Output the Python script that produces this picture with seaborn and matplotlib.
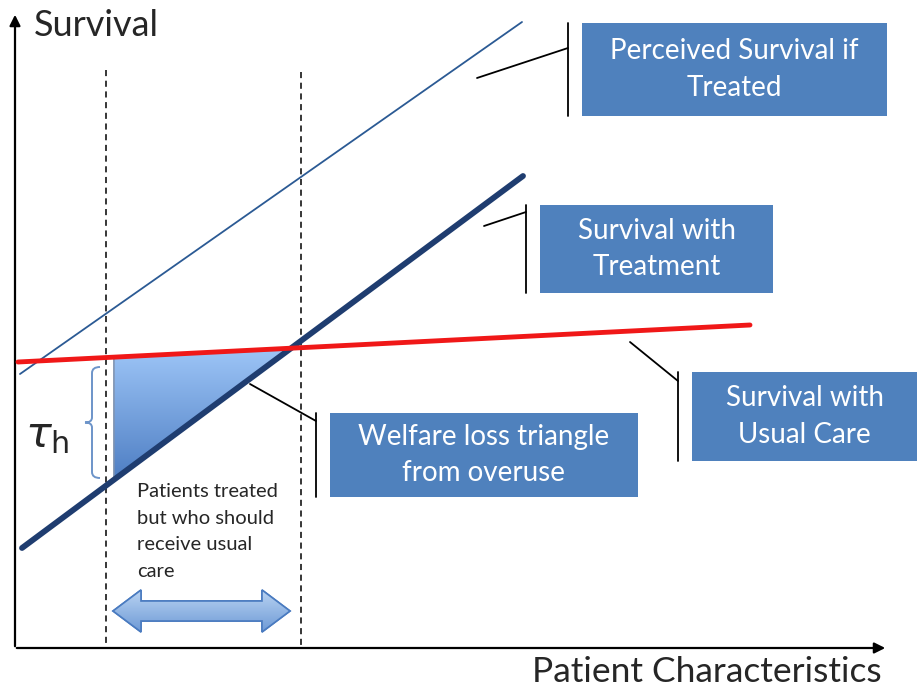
import numpy as np
import matplotlib
matplotlib.use("Agg")
import matplotlib.pyplot as plt
import matplotlib.patches as mpatches
from matplotlib.path import Path
import seaborn as sns

# --- diagram data (pixel-like coordinates, y grows downward) ---
perceived_x = [20, 522]
perceived_y = [374, 22]
treated_x = [22, 523]
treated_y = [548, 176]
usual_x = [18, 750]
usual_y = [362, 325]

cutoff_x = [106, 301]
cutoff_top = [70, 72]

triangle_x = [114, 291, 114]
triangle_y = [356, 350, 478]

box_labels = ["Perceived Survival if\nTreated", "Survival with\nTreatment",
              "Survival with\nUsual Care", "Welfare loss triangle\nfrom overuse"]
box_left = [582, 540, 692, 330]
box_top = [23, 205, 372, 413]
box_right = [887, 773, 917, 638]
box_bottom = [116, 293, 461, 497]
callout_from_x = [477, 484, 630, 250]
callout_from_y = [78, 226, 342, 384]
callout_to_y = [48, 212, 381, 421]

patients_note = "Patients treated\nbut who should\nreceive usual\ncare"

sns.set_style("white")
plt.rcParams['font.family'] = ['Lato', 'DejaVu Sans']

fig = plt.figure(figsize=(9.17, 6.92), dpi=100)
ax = fig.add_axes([0, 0, 1, 1])
ax.set_xlim(0, 917)
ax.set_ylim(692, 0)
ax.axis("off")

# main lines
sns.lineplot(x=perceived_x, y=perceived_y, ax=ax, color="#2b5a94", lw=1.3, zorder=3)
sns.lineplot(x=treated_x, y=treated_y, ax=ax, color="#1f3d70", lw=4.2, zorder=4)
sns.lineplot(x=usual_x, y=usual_y, ax=ax, color="#f01818", lw=3.5, zorder=4)

# dashed cutoffs
for cx, ct in zip(cutoff_x, cutoff_top):
    ax.plot([cx, cx], [ct, 648], color="black", lw=1.1, ls=(0, (4, 3)), zorder=2)

# axes with arrows
ax.annotate("", xy=(15, 12), xytext=(15, 649),
            arrowprops=dict(arrowstyle="-|>", color="black", lw=1.6, mutation_scale=16))
ax.annotate("", xy=(888, 648), xytext=(14, 648),
            arrowprops=dict(arrowstyle="-|>", color="black", lw=1.6, mutation_scale=16))
ax.text(34, 26, "Survival", fontsize=26, va="center", ha="left")
ax.text(882, 672, "Patient Characteristics", fontsize=25.5, va="center", ha="right")


def gradient_fill(patch, top_color, bottom_color, y0, y1, x0, x1):
    ax.add_patch(patch)
    c0 = np.array(matplotlib.colors.to_rgb(top_color))
    c1 = np.array(matplotlib.colors.to_rgb(bottom_color))
    t = np.linspace(0, 1, 128)[:, None]
    img = (c0 * (1 - t) + c1 * t)[:, None, :]
    im = ax.imshow(img, extent=[x0, x1, y1, y0], aspect="auto", zorder=patch.get_zorder(),
                   interpolation="bilinear")
    im.set_clip_path(patch)


# welfare loss triangle
tri = mpatches.Polygon(np.column_stack([triangle_x, triangle_y]), closed=True,
                       facecolor="none", edgecolor="#7f93b0", lw=1, zorder=3)
gradient_fill(tri, "#9cc4f6", "#4f7fc4", min(triangle_y), max(triangle_y),
              min(triangle_x), max(triangle_x))
ax.add_patch(mpatches.Polygon(np.column_stack([triangle_x, triangle_y]), closed=True,
                              facecolor="none", edgecolor="#7f93b0", lw=1, zorder=3.5))

# brace with tau_h
bx, by0, by1 = 92, 367, 478
mid = (by0 + by1) / 2
verts = [(bx + 8, by0), (bx, by0), (bx, by0 + 6), (bx, mid - 5), (bx, mid), (bx - 7, mid),
         (bx, mid), (bx, mid + 5), (bx, by1 - 6), (bx, by1), (bx + 8, by1)]
codes = [Path.MOVETO, Path.CURVE3, Path.CURVE3, Path.LINETO, Path.CURVE3, Path.CURVE3,
         Path.CURVE3, Path.CURVE3, Path.LINETO, Path.CURVE3, Path.CURVE3]
ax.add_patch(mpatches.PathPatch(Path(verts, codes), facecolor="none",
                                edgecolor="#6d94c9", lw=1.4, zorder=3))
ax.text(25, 437, r"$\tau_{\mathsf{h}}$", fontsize=31, ha="left", va="center")

# note and double arrow
ax.text(137, 483, patients_note, fontsize=14.5, ha="left", va="top", linespacing=1.68)
ax_x0, ax_x1, ay = 113, 290, 611
body, head, hlen = 10, 21, 28
arrow_pts = [(ax_x0, ay), (ax_x0 + hlen, ay - head), (ax_x0 + hlen, ay - body),
             (ax_x1 - hlen, ay - body), (ax_x1 - hlen, ay - head), (ax_x1, ay),
             (ax_x1 - hlen, ay + head), (ax_x1 - hlen, ay + body), (ax_x0 + hlen, ay + body),
             (ax_x0 + hlen, ay + head)]
arr = mpatches.Polygon(arrow_pts, closed=True, facecolor="none", edgecolor="#4a7bc0",
                       lw=1.2, zorder=3)
gradient_fill(arr, "#b9d3f2", "#6e9ad6", ay - head, ay + head, ax_x0, ax_x1)
ax.add_patch(mpatches.Polygon(arrow_pts, closed=True, facecolor="none",
                              edgecolor="#4a7bc0", lw=1.2, zorder=3.5))

# callout boxes
for lab, l, t, r, b, fx, fy, ty in zip(box_labels, box_left, box_top, box_right,
                                        box_bottom, callout_from_x, callout_from_y,
                                        callout_to_y):
    ax.add_patch(mpatches.Rectangle((l, t), r - l, b - t, facecolor="#4f81bd",
                                    edgecolor="none", zorder=5))
    ax.text((l + r) / 2, (t + b) / 2, lab, color="white", fontsize=20,
            ha="center", va="center", linespacing=1.5, zorder=6)
    vx = l - 14
    ax.plot([vx, vx], [t, b], color="black", lw=1.3, zorder=5)
    ax.plot([fx, vx], [fy, ty], color="black", lw=1.3, zorder=5)

fig.savefig("out.png", dpi=100)
